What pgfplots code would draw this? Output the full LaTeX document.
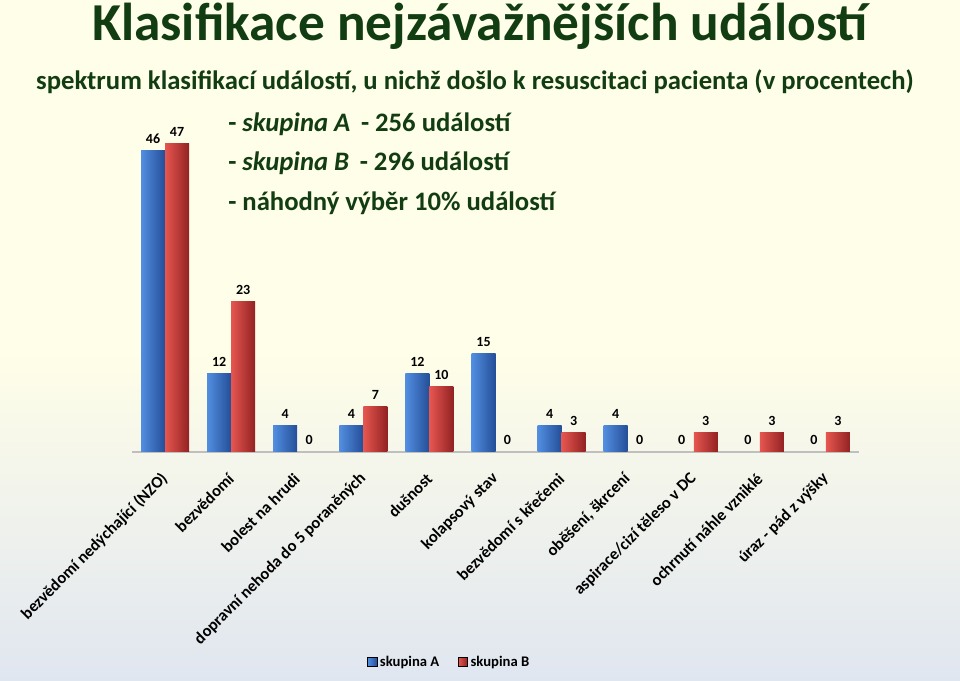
\documentclass[border=0pt]{standalone}
\usepackage{pgfplots}
\usepackage{pgfplotstable}
\pgfplotsset{compat=1.18}
\usepackage{fontspec}
\setmainfont{Carlito}
\definecolor{tgreen}{RGB}{18,61,18}
\definecolor{bL}{RGB}{82,142,224}
\definecolor{bM}{RGB}{64,124,208}
\definecolor{bR}{RGB}{36,78,152}
\definecolor{rL}{RGB}{230,86,80}
\definecolor{rM}{RGB}{212,62,60}
\definecolor{rR}{RGB}{146,34,34}
\definecolor{bgtop}{RGB}{255,254,232}
\definecolor{bgbot}{RGB}{224,230,240}
\pgfplotstableread{
x a b
0 46 47
1 12 23
2 4 0
3 4 7
4 12 10
5 15 0
6 4 3
7 4 0
8 0 3
9 0 3
10 0 3
}\data
\begin{document}
\begin{tikzpicture}
\begin{scope}[x=0.75pt,y=0.75pt]
\path[use as bounding box] (0,0) rectangle (960,681);
\fill[bgtop] (0,0) rectangle (960,681);
\shade[top color=bgtop, bottom color=bgbot] (0,0) rectangle (960,330);
\node[anchor=base, inner sep=0pt, font=\bfseries\fontsize{40}{48}\selectfont, text=tgreen] at (480,640) {Klasifikace nejzávažnějších událostí};
\node[anchor=base, inner sep=0pt, font=\bfseries\fontsize{20}{24}\selectfont, text=tgreen] at (475,591) {spektrum klasifikací událostí, u nichž došlo k resuscitaci pacienta (v procentech)};
\node[anchor=base west, inner sep=0pt, text=tgreen] at (228,549) {\bfseries\fontsize{20}{24}\selectfont - \textit{skupina A}\hspace{0.4em}- 256 událostí};
\node[anchor=base west, inner sep=0pt, text=tgreen] at (228,510) {\bfseries\fontsize{20}{24}\selectfont - \textit{skupina B}\hspace{0.4em}- 296 událostí};
\node[anchor=base west, inner sep=0pt, text=tgreen] at (228,470) {\bfseries\fontsize{20}{24}\selectfont - náhodný výběr 10\% událostí};
\end{scope}
\begin{axis}[
  at={(99pt,171.75pt)}, anchor=south west,
  scale only axis, width=545.25pt, height=246pt,
  xmin=-0.5, xmax=10.5, ymin=0, ymax=50,
  ybar=0pt, bar width=18pt,
  axis y line=none, axis x line*=bottom,
  x axis line style={-, draw=black!25, line width=0.8pt},
  xtick={0,...,10}, major tick length=0pt,
  xticklabels={bezvědomí nedýchající (NZO), bezvědomí, bolest na hrudi, dopravní nehoda do 5 poraněných, dušnost, kolapsový stav, bezvědomí s křečemi, {oběšení, škrcení}, aspirace/cizí těleso v DC, ochrnutí náhle vzniklé, úraz - pád z výšky},
  xticklabel style={rotate=45, anchor=east, inner sep=0pt, font=\bfseries\fontsize{12.4}{14}\selectfont},
  xticklabel shift=18pt,
  /pgf/number format/assume math mode=true,
  nodes near coords,
  every node near coord/.append style={font=\bfseries\fontsize{10.5}{12}\selectfont, anchor=south, inner sep=0pt, yshift=5pt},
  legend style={at={(0.437,-0.64)}, anchor=center, draw=none, fill=none, legend columns=2, font=\bfseries\fontsize{11}{13}\selectfont, /tikz/every even column/.append style={column sep=12pt}},
  barA/.style={draw=none, left color=bL, middle color=bM, right color=bR, bar shift=-9pt, forget plot},
  barB/.style={draw=none, left color=rL, middle color=rM, right color=rR, bar shift=9pt, forget plot},
]
\addlegendimage{legend image code/.code={\fill[left color=bL, middle color=bM, right color=bR] (0pt,-3.5pt) rectangle (7pt,3.5pt);}}
\addlegendimage{legend image code/.code={\fill[left color=rL, middle color=rM, right color=rR] (0pt,-3.5pt) rectangle (7pt,3.5pt);}}
\pgfplotsinvokeforeach{0,...,10}{
  \addplot[barA] table[x=x, y=a, restrict x to domain=#1:#1] {\data};
  \addplot[barB] table[x=x, y=b, restrict x to domain=#1:#1] {\data};
}
\legend{skupina A, skupina B}
\end{axis}
\end{tikzpicture}
\end{document}
